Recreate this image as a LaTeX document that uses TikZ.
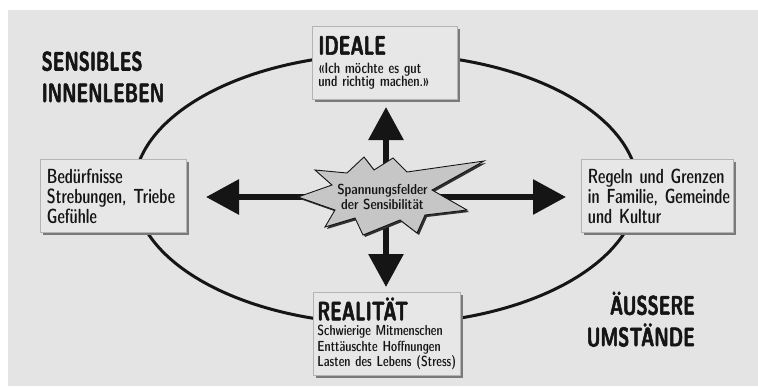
\documentclass[tikz,border=0pt]{standalone}
\usepackage{fontspec}
\usetikzlibrary{arrows.meta,shadows}
\newfontfamily\bodyf[FakeStretch=0.818]{lmsansdemicond10-regular.otf}
\newfontfamily\bodyn[FakeStretch=0.873]{lmsansdemicond10-regular.otf}
\newfontfamily\bodys[FakeStretch=0.97]{lmsansdemicond10-regular.otf}
\newfontfamily\titlef[FakeStretch=0.68,FakeBold=2]{lmsans10-bold.otf}
\definecolor{bg}{HTML}{E4E4E4}
\definecolor{boxfill}{HTML}{E7E7E7}
\definecolor{boxline}{HTML}{B4B4B4}
\definecolor{boxshadow}{HTML}{7A7A7A}
\definecolor{ink}{HTML}{151515}
\definecolor{starfill}{HTML}{C6C6C6}
\definecolor{starshadow}{HTML}{303030}
\newcommand{\titlesz}{\titlef\fontsize{26.7}{31.6}\selectfont}
\newcommand{\sidesz}{\bodyf\fontsize{20.5}{20}\selectfont\hyphenpenalty=10000\lineskiplimit=-6pt}
\newcommand{\idsz}{\bodyn\fontsize{15}{13.3}\selectfont\lineskiplimit=-6pt\hyphenpenalty=10000}
\newcommand{\resz}{\bodyn\fontsize{14.6}{15.8}\selectfont\lineskiplimit=-6pt\hyphenpenalty=10000}
\newcommand{\starsz}{\bodys\fontsize{14.5}{15}\selectfont\lineskiplimit=-6pt}
\tikzset{
  box/.style={draw=boxline, line width=0.8pt, fill=boxfill,
    drop shadow={shadow xshift=2.5pt, shadow yshift=-2.5pt, fill=boxshadow, opacity=1},
    anchor=north west, align=left, inner ysep=0pt, text=ink},
  bigarrow/.style={draw=ink, line width=6pt, -{Triangle[length=33pt,width=34pt]}},
  outer/.style={inner sep=0pt, text=ink, font=\titlesz},
}
\begin{document}
\begin{tikzpicture}[x=1pt,y=-1pt]
\useasboundingbox (0,0) rectangle (758,386);
\fill[bg] (8,10) rectangle (758,386);
% ellipse
\draw[ink, line width=3pt] (386,189) ellipse [x radius=252pt, y radius=135pt];
% boxes
\node[box, inner xsep=6pt, text width=133pt, minimum width=145pt, minimum height=73pt, font=\idsz] (ideale) at (312,26)
  {{\titlesz IDEALE}\\[5.7pt]«Ich~möchte~es~gut\\und~richtig~machen.»};
\node[box, inner xsep=6.5pt, text width=133pt, minimum width=146pt, minimum height=73pt, font=\sidesz] (beduerf) at (40,159)
  {Bedürfnisse\\Strebungen,~Triebe\\Gefühle};
\node[box, inner xsep=6.5pt, text width=139pt, minimum width=152pt, minimum height=73pt, font=\sidesz] (regeln) at (581,159)
  {Regeln~und~Grenzen\\in~Familie,~Gemeinde\\und~Kultur};
\node[box, inner xsep=4pt, text width=139pt, minimum width=147pt, minimum height=83pt, font=\resz] (realitaet) at (313,292)
  {{\titlesz REALITÄT}\\[-0.8pt]Schwierige~Mitmenschen\\Enttäuschte~Hoffnungen\\Lasten~des~Lebens~(Stress)};
% arrows
\coordinate (c) at (386,197);
\coordinate (tipU) at (386,107);
\coordinate (tipD) at (386,287);
\coordinate (tipL) at (206,197);
\coordinate (tipR) at (566,197);
\draw[bigarrow] (c) -- (tipU);
\draw[bigarrow] (c) -- (tipD);
\draw[bigarrow] (c) -- (tipL);
\draw[bigarrow] (c) -- (tipR);
% star
\fill[starshadow, shift={(2pt,-2pt)}] (364,157) -- (374,170) -- (393,158) -- (407,172) -- (484,161) -- (432,190) -- (467,210) -- (425,215) -- (417,233) -- (400,220) -- (363,235) -- (355,218) -- (325,227) -- (335,210) -- (298,197) -- (332,185) -- (315,170) -- (347,173) -- cycle;
\draw[fill=starfill, draw=ink, line width=0.9pt, line join=miter] (364,157) -- (374,170) -- (393,158) -- (407,172) -- (484,161) -- (432,190) -- (467,210) -- (425,215) -- (417,233) -- (400,220) -- (363,235) -- (355,218) -- (325,227) -- (335,210) -- (298,197) -- (332,185) -- (315,170) -- (347,173) -- cycle;
\node[inner sep=0pt, align=center, text=ink, font=\starsz] (startext) at (382.5,196.5) {Spannungsfelder\\der Sensibilität};
% outer labels
\node[outer, align=left, anchor=south west] (innen) at (41.5,102.3) {SENSIBLES\\INNENLEBEN};
\node[outer, align=right, anchor=south east] (aussen) at (695,347) {ÄUSSERE\\UMSTÄNDE};
\end{tikzpicture}
\end{document}
